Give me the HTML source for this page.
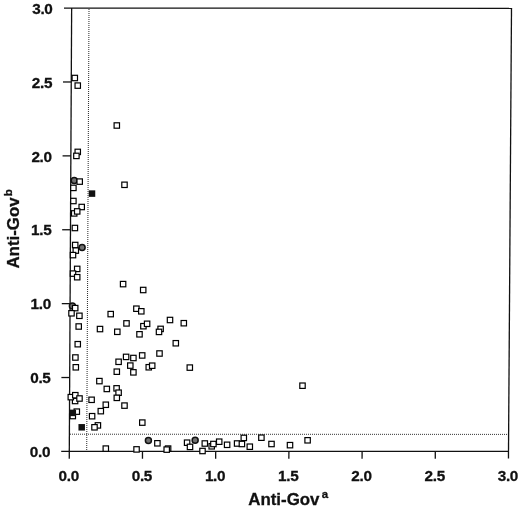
<!DOCTYPE html>
<html><head><meta charset="utf-8"><title>Anti-Gov scatter</title>
<style>html,body{margin:0;padding:0;background:#fff}svg{display:block}</style></head>
<body>
<svg width="520" height="507" viewBox="0 0 520 507">
<rect width="520" height="507" fill="#fff"/>
<g stroke="#333" stroke-dasharray="1 1" fill="none">
<line x1="89" y1="9" x2="86.7" y2="451" stroke-width="1.05"/>
<line x1="70" y1="434.2" x2="508" y2="434.4" stroke-width="1"/>
</g>
<g stroke="#111" stroke-width="1.3" fill="none" stroke-linecap="butt">
<line x1="64" y1="8.1" x2="512.1" y2="8.3"/>
<line x1="71.65" y1="8.1" x2="69.26" y2="458.7"/>
<line x1="61.2" y1="451.4" x2="508.5" y2="451.4"/>
<line x1="511.5" y1="8.3" x2="508.45" y2="458.5"/>
<line x1="62.96" y1="81.98" x2="71.26" y2="81.98"/>
<line x1="62.57" y1="155.87" x2="70.87" y2="155.87"/>
<line x1="62.17" y1="229.75" x2="70.47" y2="229.75"/>
<line x1="61.78" y1="303.63" x2="70.08" y2="303.63"/>
<line x1="61.39" y1="377.52" x2="69.69" y2="377.52"/>
<line x1="142.50" y1="451.4" x2="142.46" y2="458.7"/>
<line x1="215.70" y1="451.4" x2="215.66" y2="458.7"/>
<line x1="288.90" y1="451.4" x2="288.86" y2="458.7"/>
<line x1="362.10" y1="451.4" x2="362.06" y2="458.7"/>
<line x1="435.30" y1="451.4" x2="435.26" y2="458.7"/>
</g>
<g stroke="#111" stroke-width="1.5" fill="#707070">
<circle cx="74.2" cy="180.6" r="3.0"/>
<circle cx="82.1" cy="247.6" r="3.0"/>
<circle cx="72.4" cy="306" r="3.0"/>
<circle cx="148.4" cy="440.6" r="3.0"/>
<circle cx="195.15" cy="440.3" r="3.0"/>
</g>
<g stroke="#000" stroke-width="1.2" fill="#fff">
<rect x="72.10" y="75.30" width="5.4" height="5.4"/>
<rect x="75.05" y="82.90" width="5.4" height="5.4"/>
<rect x="114.10" y="122.80" width="5.4" height="5.4"/>
<rect x="75.05" y="149.20" width="5.4" height="5.4"/>
<rect x="73.70" y="153.20" width="5.4" height="5.4"/>
<rect x="77.00" y="178.90" width="5.4" height="5.4"/>
<rect x="121.80" y="182.10" width="5.4" height="5.4"/>
<rect x="70.70" y="185.20" width="5.4" height="5.4"/>
<rect x="70.70" y="198.30" width="5.4" height="5.4"/>
<rect x="79.00" y="204.30" width="5.4" height="5.4"/>
<rect x="71.50" y="210.70" width="5.4" height="5.4"/>
<rect x="74.50" y="208.70" width="5.4" height="5.4"/>
<rect x="72.20" y="225.30" width="5.4" height="5.4"/>
<rect x="72.50" y="242.30" width="5.4" height="5.4"/>
<rect x="73.10" y="247.90" width="5.4" height="5.4"/>
<rect x="70.30" y="252.40" width="5.4" height="5.4"/>
<rect x="74.50" y="266.20" width="5.4" height="5.4"/>
<rect x="70.30" y="270.90" width="5.4" height="5.4"/>
<rect x="74.50" y="274.50" width="5.4" height="5.4"/>
<rect x="120.40" y="281.40" width="5.4" height="5.4"/>
<rect x="140.50" y="287.30" width="5.4" height="5.4"/>
<rect x="72.50" y="305.40" width="5.4" height="5.4"/>
<rect x="133.70" y="306.00" width="5.4" height="5.4"/>
<rect x="138.60" y="308.60" width="5.4" height="5.4"/>
<rect x="68.80" y="310.60" width="5.4" height="5.4"/>
<rect x="108.00" y="311.40" width="5.4" height="5.4"/>
<rect x="76.70" y="313.10" width="5.4" height="5.4"/>
<rect x="167.30" y="317.30" width="5.4" height="5.4"/>
<rect x="181.10" y="320.50" width="5.4" height="5.4"/>
<rect x="123.80" y="320.70" width="5.4" height="5.4"/>
<rect x="140.70" y="323.50" width="5.4" height="5.4"/>
<rect x="144.40" y="321.10" width="5.4" height="5.4"/>
<rect x="76.00" y="323.80" width="5.4" height="5.4"/>
<rect x="97.30" y="326.35" width="5.4" height="5.4"/>
<rect x="157.90" y="326.20" width="5.4" height="5.4"/>
<rect x="114.60" y="329.10" width="5.4" height="5.4"/>
<rect x="156.30" y="329.20" width="5.4" height="5.4"/>
<rect x="136.80" y="331.60" width="5.4" height="5.4"/>
<rect x="173.10" y="340.55" width="5.4" height="5.4"/>
<rect x="75.05" y="341.50" width="5.4" height="5.4"/>
<rect x="156.80" y="350.80" width="5.4" height="5.4"/>
<rect x="139.50" y="352.75" width="5.4" height="5.4"/>
<rect x="123.40" y="354.20" width="5.4" height="5.4"/>
<rect x="130.70" y="355.30" width="5.4" height="5.4"/>
<rect x="72.70" y="354.80" width="5.4" height="5.4"/>
<rect x="115.90" y="359.10" width="5.4" height="5.4"/>
<rect x="127.60" y="362.90" width="5.4" height="5.4"/>
<rect x="146.05" y="364.55" width="5.4" height="5.4"/>
<rect x="149.50" y="363.00" width="5.4" height="5.4"/>
<rect x="73.10" y="364.60" width="5.4" height="5.4"/>
<rect x="187.10" y="364.90" width="5.4" height="5.4"/>
<rect x="114.10" y="369.00" width="5.4" height="5.4"/>
<rect x="130.70" y="369.65" width="5.4" height="5.4"/>
<rect x="96.70" y="378.40" width="5.4" height="5.4"/>
<rect x="104.10" y="386.25" width="5.4" height="5.4"/>
<rect x="113.90" y="385.65" width="5.4" height="5.4"/>
<rect x="115.90" y="390.00" width="5.4" height="5.4"/>
<rect x="114.10" y="395.15" width="5.4" height="5.4"/>
<rect x="72.40" y="398.30" width="5.4" height="5.4"/>
<rect x="68.10" y="394.45" width="5.4" height="5.4"/>
<rect x="72.60" y="392.50" width="5.4" height="5.4"/>
<rect x="76.80" y="395.80" width="5.4" height="5.4"/>
<rect x="88.90" y="397.10" width="5.4" height="5.4"/>
<rect x="103.10" y="402.05" width="5.4" height="5.4"/>
<rect x="121.80" y="402.90" width="5.4" height="5.4"/>
<rect x="98.10" y="408.45" width="5.4" height="5.4"/>
<rect x="70.10" y="413.35" width="5.4" height="5.4"/>
<rect x="74.10" y="408.95" width="5.4" height="5.4"/>
<rect x="89.40" y="413.50" width="5.4" height="5.4"/>
<rect x="139.60" y="419.90" width="5.4" height="5.4"/>
<rect x="95.20" y="422.70" width="5.4" height="5.4"/>
<rect x="91.80" y="424.60" width="5.4" height="5.4"/>
<rect x="154.70" y="440.60" width="5.4" height="5.4"/>
<rect x="103.10" y="445.90" width="5.4" height="5.4"/>
<rect x="133.85" y="446.70" width="5.4" height="5.4"/>
<rect x="165.40" y="445.90" width="5.4" height="5.4"/>
<rect x="164.00" y="446.90" width="5.4" height="5.4"/>
<rect x="184.40" y="440.00" width="5.4" height="5.4"/>
<rect x="187.30" y="444.20" width="5.4" height="5.4"/>
<rect x="202.10" y="440.80" width="5.4" height="5.4"/>
<rect x="199.80" y="448.30" width="5.4" height="5.4"/>
<rect x="209.00" y="443.60" width="5.4" height="5.4"/>
<rect x="210.70" y="441.30" width="5.4" height="5.4"/>
<rect x="216.50" y="439.00" width="5.4" height="5.4"/>
<rect x="224.40" y="442.10" width="5.4" height="5.4"/>
<rect x="234.40" y="440.80" width="5.4" height="5.4"/>
<rect x="241.10" y="435.20" width="5.4" height="5.4"/>
<rect x="239.20" y="441.30" width="5.4" height="5.4"/>
<rect x="247.10" y="444.00" width="5.4" height="5.4"/>
<rect x="258.70" y="435.00" width="5.4" height="5.4"/>
<rect x="268.80" y="441.30" width="5.4" height="5.4"/>
<rect x="287.30" y="442.45" width="5.4" height="5.4"/>
<rect x="304.90" y="437.60" width="5.4" height="5.4"/>
<rect x="299.80" y="383.00" width="5.4" height="5.4"/>
</g>
<g fill="#111">
<rect x="88.75" y="190.35" width="6.5" height="6.5"/>
<rect x="69.55" y="409.65" width="6.5" height="6.5"/>
<rect x="78.45" y="424.05" width="6.5" height="6.5"/>
</g>
<g font-family="'Liberation Sans', Arial, sans-serif" font-weight="bold" fill="#111" stroke="#111" stroke-width="0.3">
<text x="52.55" y="14.00" font-size="15.3" letter-spacing="-0.3" text-anchor="end">3.0</text>
<text x="52.16" y="87.78" font-size="15.3" letter-spacing="-0.3" text-anchor="end">2.5</text>
<text x="51.77" y="161.57" font-size="15.3" letter-spacing="-0.3" text-anchor="end">2.0</text>
<text x="51.37" y="235.35" font-size="15.3" letter-spacing="-0.3" text-anchor="end">1.5</text>
<text x="50.98" y="309.13" font-size="15.3" letter-spacing="-0.3" text-anchor="end">1.0</text>
<text x="50.59" y="382.92" font-size="15.3" letter-spacing="-0.3" text-anchor="end">0.5</text>
<text x="50.20" y="456.70" font-size="15.3" letter-spacing="-0.3" text-anchor="end">0.0</text>
<text x="68.70" y="480.8" font-size="15.3" letter-spacing="-0.3" text-anchor="middle">0.0</text>
<text x="141.90" y="480.8" font-size="15.3" letter-spacing="-0.3" text-anchor="middle">0.5</text>
<text x="215.10" y="480.8" font-size="15.3" letter-spacing="-0.3" text-anchor="middle">1.0</text>
<text x="288.30" y="480.8" font-size="15.3" letter-spacing="-0.3" text-anchor="middle">1.5</text>
<text x="361.50" y="480.8" font-size="15.3" letter-spacing="-0.3" text-anchor="middle">2.0</text>
<text x="434.70" y="480.8" font-size="15.3" letter-spacing="-0.3" text-anchor="middle">2.5</text>
<text x="507.90" y="480.8" font-size="15.3" letter-spacing="-0.3" text-anchor="middle">3.0</text>
<text x="248.2" y="504.7" font-size="16.9">Anti-Gov<tspan font-size="11.5" dy="-7" dx="2.3">a</tspan></text>
<text transform="translate(19.4,268.6) rotate(-90)" font-size="16.9">Anti-Gov<tspan font-size="11.5" dy="-7" dx="1.0">b</tspan></text>
</g>
</svg>
</body></html>
